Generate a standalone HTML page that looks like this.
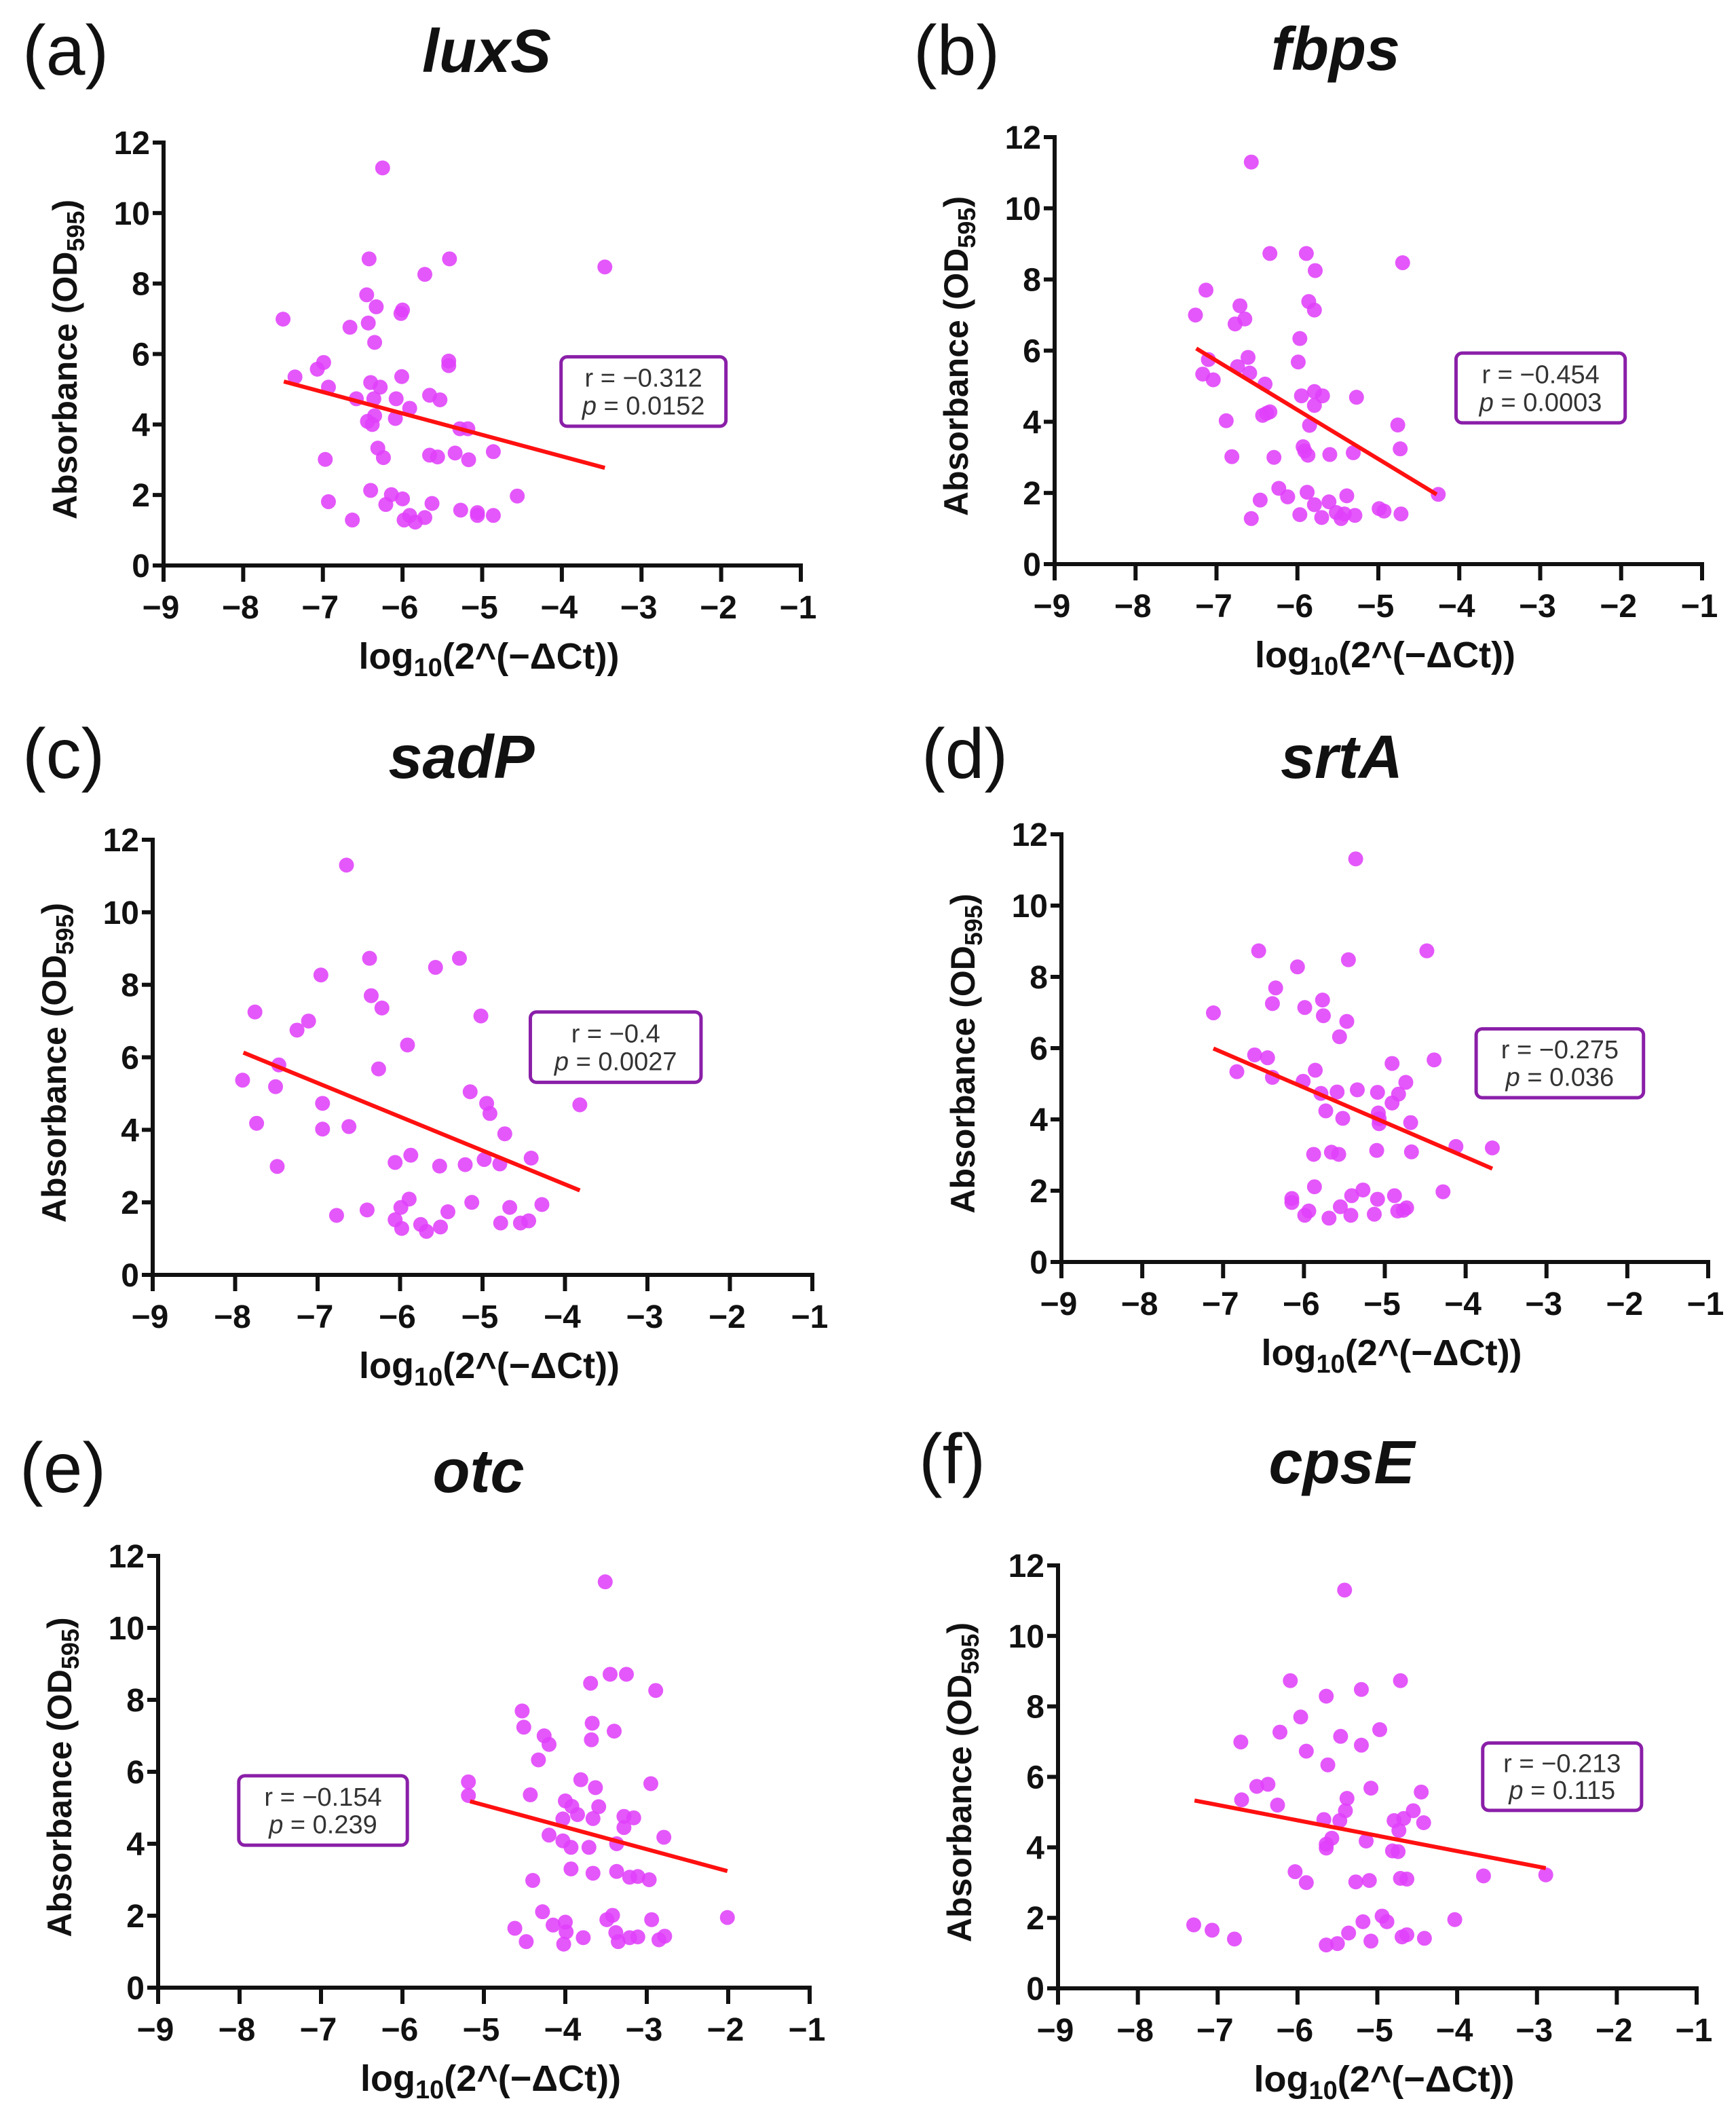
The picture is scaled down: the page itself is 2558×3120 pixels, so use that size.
<!DOCTYPE html>
<html><head><meta charset="utf-8">
<style>
html,body{margin:0;padding:0;background:#fff;}
svg{display:block;font-family:"Liberation Sans",Arial,sans-serif;}
</style></head>
<body>
<svg id="fig" xmlns="http://www.w3.org/2000/svg" width="2558" height="3120" viewBox="0 0 2558 3120"></svg>
<script>
// ---------- data ----------
const xTicks = [-9,-8,-7,-6,-5,-4,-3,-2,-1];
const yTicks = [0,2,4,6,8,10,12];
const panelLetters = ["(a)","(b)","(c)","(d)","(e)","(f)"];
const geneNames = ["luxS","fbps","sadP","srtA","otc","cpsE"];
const rValues = ["−0.312","−0.454","−0.4","−0.275","−0.154","−0.213"];
const pValues = ["0.0152","0.0003","0.0027","0.036","0.239","0.115"];

const luxsX = [-6.25,-6.42,-5.41,-3.46,-5.72,-6.45,-6.33,-6.0,-6.02,-7.5,-6.66,-6.43,-6.35,-6.99,-7.07,-5.42,-5.42,-7.35,-6.01,-6.40,-6.28,-6.93,-6.58,-6.36,-6.08,-5.66,-5.53,-5.91,-6.35,-6.44,-6.38,-6.09,-5.28,-5.18,-6.31,-6.24,-5.66,-5.56,-5.34,-5.17,-4.86,-6.97,-6.40,-6.14,-6.21,-6.0,-4.56,-6.93,-5.63,-6.63,-5.98,-5.91,-5.84,-5.72,-5.27,-5.06,-5.06,-4.86];
const luxsY = [11.28,8.7,8.7,8.47,8.26,7.68,7.34,7.25,7.15,6.99,6.76,6.88,6.33,5.76,5.57,5.8,5.67,5.35,5.36,5.19,5.06,5.06,4.73,4.73,4.73,4.83,4.70,4.46,4.25,4.09,4.0,4.17,3.88,3.88,3.33,3.06,3.13,3.08,3.19,3.0,3.23,3.01,2.13,2.01,1.73,1.89,1.97,1.81,1.76,1.29,1.29,1.42,1.23,1.36,1.57,1.5,1.42,1.42];
const fbpsX = [-6.57,-6.34,-5.89,-4.70,-5.78,-7.13,-6.71,-5.86,-5.79,-7.26,-6.65,-6.77,-5.97,-5.99,-7.10,-6.61,-6.74,-6.59,-7.17,-7.04,-6.40,-5.95,-5.79,-5.69,-5.27,-5.79,-6.43,-6.38,-6.34,-5.85,-6.88,-4.76,-5.93,-5.91,-5.87,-5.60,-5.31,-4.73,-6.81,-6.29,-6.23,-6.12,-5.88,-6.46,-5.79,-5.61,-5.39,-4.26,-6.57,-5.97,-5.70,-5.52,-5.46,-5.42,-5.29,-4.99,-4.93,-4.72];
const fbpsY = [11.3,8.73,8.73,8.47,8.25,7.70,7.26,7.38,7.14,7.0,6.89,6.75,6.34,5.68,5.75,5.81,5.55,5.37,5.34,5.18,5.06,4.73,4.85,4.73,4.69,4.46,4.18,4.24,4.28,3.9,4.03,3.91,3.3,3.18,3.06,3.08,3.13,3.24,3.02,3.0,2.13,1.89,2.02,1.80,1.67,1.75,1.92,1.96,1.28,1.39,1.31,1.45,1.28,1.41,1.37,1.56,1.49,1.41];
const sadpX = [-6.65,-6.37,-5.28,-5.57,-6.96,-6.35,-6.22,-7.76,-5.02,-7.11,-7.25,-5.91,-7.47,-6.26,-7.91,-7.51,-5.15,-4.95,-6.94,-4.91,-3.82,-7.74,-6.62,-6.94,-4.73,-5.87,-6.06,-4.41,-4.98,-4.79,-5.52,-5.21,-7.49,-5.89,-5.99,-5.13,-4.67,-4.28,-6.40,-6.77,-5.42,-6.06,-5.98,-5.75,-5.68,-5.51,-4.78,-4.54,-4.44];
const sadpY = [11.3,8.73,8.73,8.48,8.27,7.70,7.36,7.25,7.14,7.0,6.75,6.34,5.79,5.68,5.37,5.19,5.05,4.73,4.73,4.45,4.69,4.18,4.09,4.02,3.89,3.30,3.10,3.22,3.18,3.06,3.0,3.04,2.99,2.09,1.86,2.0,1.86,1.94,1.79,1.64,1.74,1.52,1.28,1.39,1.20,1.32,1.43,1.43,1.49];
const srtaX = [-5.36,-6.56,-4.48,-5.45,-6.08,-6.35,-5.77,-6.39,-5.99,-7.12,-5.76,-5.47,-5.56,-6.61,-6.45,-4.39,-4.91,-6.83,-5.86,-6.39,-6.01,-4.74,-5.79,-5.59,-5.34,-5.09,-4.83,-4.91,-5.08,-5.07,-5.07,-5.73,-5.52,-4.68,-4.12,-3.67,-5.10,-4.67,-5.88,-5.66,-5.57,-5.87,-5.27,-4.28,-6.15,-6.15,-5.41,-5.09,-4.88,-5.94,-5.99,-5.69,-5.42,-5.55,-5.13,-4.84,-4.77,-4.73];
const srtaY = [11.31,8.73,8.73,8.48,8.28,7.69,7.35,7.25,7.14,6.99,6.91,6.75,6.32,5.81,5.73,5.67,5.57,5.34,5.38,5.18,5.07,5.04,4.73,4.77,4.83,4.76,4.71,4.46,4.18,4.02,3.88,4.24,4.03,3.91,3.24,3.2,3.13,3.09,3.02,3.08,3.02,2.11,2.02,1.97,1.78,1.67,1.86,1.76,1.86,1.43,1.31,1.23,1.31,1.55,1.34,1.43,1.45,1.52];
const otcX = [-3.51,-3.45,-3.25,-3.69,-2.89,-4.53,-4.51,-3.67,-3.40,-4.26,-4.20,-3.68,-4.33,-5.19,-5.19,-3.81,-3.63,-2.95,-4.43,-4.0,-3.92,-3.59,-3.85,-4.03,-3.66,-3.28,-3.16,-3.28,-4.20,-2.79,-4.03,-3.93,-3.71,-3.37,-3.93,-3.37,-3.66,-3.21,-3.11,-2.97,-4.40,-4.28,-3.42,-3.49,-2.94,-2.01,-4.0,-4.15,-3.99,-4.62,-3.78,-4.48,-4.02,-3.38,-3.35,-3.21,-3.11,-2.85,-2.78];
const otcY = [11.28,8.71,8.71,8.46,8.26,7.69,7.24,7.35,7.13,7.0,6.76,6.89,6.33,5.72,5.34,5.78,5.56,5.67,5.36,5.19,5.04,5.03,4.81,4.69,4.70,4.76,4.72,4.45,4.24,4.18,4.08,3.90,3.90,4.0,3.30,3.23,3.18,3.07,3.09,3.0,2.98,2.11,2.01,1.89,1.89,1.95,1.82,1.74,1.55,1.65,1.39,1.28,1.21,1.53,1.28,1.39,1.41,1.33,1.43];
const cpseX = [-5.41,-6.09,-4.71,-5.20,-5.64,-5.96,-6.22,-4.97,-5.46,-6.71,-5.20,-5.89,-5.62,-6.51,-6.37,-5.08,-4.45,-5.38,-6.70,-6.25,-5.40,-4.55,-5.67,-5.47,-4.67,-4.79,-4.42,-4.73,-5.57,-5.14,-5.64,-5.64,-4.81,-4.74,-6.03,-5.89,-5.27,-5.10,-4.71,-4.63,-3.67,-2.89,-7.30,-7.07,-6.79,-4.94,-4.88,-5.18,-4.03,-5.36,-5.64,-5.50,-5.08,-4.69,-4.63,-4.41];
const cpseY = [11.30,8.73,8.73,8.48,8.29,7.70,7.27,7.34,7.15,6.99,6.90,6.73,6.34,5.73,5.79,5.68,5.57,5.39,5.35,5.20,5.04,5.04,4.79,4.76,4.82,4.76,4.70,4.48,4.26,4.18,4.09,3.98,3.90,3.88,3.31,3.0,3.02,3.06,3.12,3.10,3.19,3.22,1.80,1.65,1.40,2.05,1.89,1.89,1.95,1.57,1.23,1.27,1.34,1.46,1.52,1.42];

// regression fit endpoints [x1,y1,x2,y2] per panel
const fitLuxs = [-7.49,5.22,-3.46,2.77];
const fitFbps = [-7.25,6.06,-4.28,1.96];
const fitSadp = [-7.90,6.13,-3.82,2.33];
const fitSrta = [-7.12,5.99,-3.67,2.62];
const fitOtc  = [-5.17,5.18,-2.01,3.24];
const fitCpse = [-7.29,5.33,-2.89,3.41];

// ---------- layout ----------
const panels = [
 {xs:luxsX, ys:luxsY, fit:fitLuxs, x0:241, x1:1180, y0:833, y12:210, box:[-4.01,5.92,-1.94,3.95], lab:[33,110], title:[717,106]},
 {xs:fbpsX, ys:fbpsY, fit:fitFbps, x0:1554, x1:2508, y0:831, y12:202, box:[-4.04,5.93,-1.95,3.97], lab:[1346,110], title:[1968,103]},
 {xs:sadpX, ys:sadpY, fit:fitSadp, x0:225, x1:1197, y0:1878, y12:1237, box:[-4.42,7.25,-2.35,5.31], lab:[33,1146], title:[680,1146]},
 {xs:srtaX, ys:srtaY, fit:fitSrta, x0:1564, x1:2517, y0:1859, y12:1229, box:[-3.87,6.54,-1.80,4.61], lab:[1358,1146], title:[1977,1146]},
 {xs:otcX, ys:otcY, fit:fitOtc, x0:233, x1:1193, y0:2928, y12:2292, box:[-8.01,5.89,-5.94,3.96], lab:[29,2198], title:[705,2198]},
 {xs:cpseX, ys:cpseY, fit:fitCpse, x0:1559, x1:2500, y0:2929, y12:2306, box:[-3.68,6.96,-1.69,5.05], lab:[1354,2185], title:[1977,2185]}
];

const NS = "http://www.w3.org/2000/svg";
const svg = document.getElementById("fig");
function mk(tag, attrs, parent){
  const e = document.createElementNS(NS, tag);
  for (const k in attrs) e.setAttribute(k, attrs[k]);
  (parent||svg).appendChild(e);
  return e;
}

panels.forEach((P, i) => {
  const sx = v => P.x0 + (v + 9) * (P.x1 - P.x0) / 8;
  const sy = v => P.y0 - v * (P.y0 - P.y12) / 12;
  const g = mk("g", {});
  
  

  const pl = mk("text", {x:P.lab[0], y:P.lab[1], "font-size":104, fill:"#111"}, g);
  pl.textContent = panelLetters[i];
  
  

  const tt = mk("text", {x:P.title[0], y:P.title[1], "font-size":90, "font-weight":"bold", "font-style":"italic", "text-anchor":"middle", fill:"#111"}, g);
  tt.textContent = geneNames[i];
  
  

  const ya = mk("line", {x1:P.x0, y1:P.y12-3, x2:P.x0, y2:P.y0+3, stroke:"#111", "stroke-width":6}, g);
  
  
  const xa = mk("line", {x1:P.x0-3, y1:P.y0, x2:P.x1+3, y2:P.y0, stroke:"#111", "stroke-width":6}, g);
  
  

  xTicks.forEach(t => {
    const x = sx(t);
    const tk = mk("line", {x1:x, y1:P.y0, x2:x, y2:P.y0+24, stroke:"#111", "stroke-width":6}, g);
    
    
    const tl = mk("text", {x:x-4, y:P.y0+78, "font-size":48, "font-weight":"bold", "text-anchor":"middle", fill:"#111"}, g);
    tl.textContent = "−" + Math.abs(t);
    
    
  });
  yTicks.forEach(t => {
    const y = sy(t);
    const tk = mk("line", {x1:P.x0-16, y1:y, x2:P.x0, y2:y, stroke:"#111", "stroke-width":6}, g);
    
    
    const tl = mk("text", {x:P.x0-20, y:y+17, "font-size":48, "font-weight":"bold", "text-anchor":"end", fill:"#111"}, g);
    tl.textContent = String(t);
    
    
  });

  const cy = (P.y0 + P.y12) / 2 + 8;
  const cx = P.x0 - 128;
  const yt = mk("text", {x:cx, y:cy, "font-size":50, "font-weight":"bold", "text-anchor":"middle", fill:"#111", transform:`rotate(-90 ${cx} ${cy})`}, g);
  yt.innerHTML = 'Absorbance (OD<tspan font-size="36" dy="11">595</tspan><tspan dy="-11">)</tspan>';
  
  
  const xt = mk("text", {x:(P.x0+P.x1)/2+10, y:P.y0+152, "font-size":54, "font-weight":"bold", "text-anchor":"middle", fill:"#111"}, g);
  xt.innerHTML = 'log<tspan font-size="38" dy="11">10</tspan><tspan dy="-11">(2^(−ΔCt))</tspan>';
  
  

  P.xs.forEach((xv, k) => {
    const c = mk("circle", {cx:sx(xv), cy:sy(P.ys[k]), r:11, fill:"#e040fb", "fill-opacity":0.88}, g);
    
    
  });

  const f = P.fit;
  const rl = mk("line", {x1:sx(f[0]), y1:sy(f[1]), x2:sx(f[2]), y2:sy(f[3]), stroke:"#ff1010", "stroke-width":6}, g);
  
  

  const b = P.box;
  const bx = sx(b[0]), by = sy(b[1]), bw = sx(b[2]) - bx, bh = sy(b[3]) - by;
  const rect = mk("rect", {x:bx, y:by, width:bw, height:bh, rx:9, fill:"#fff", stroke:"#8a1fa8", "stroke-width":5}, g);
  
  
  const t1 = mk("text", {x:bx+bw/2, y:by+bh*0.43, "font-size":38, "text-anchor":"middle", fill:"#333"}, g);
  t1.textContent = "r = " + rValues[i];
  
  
  const t2 = mk("text", {x:bx+bw/2, y:by+bh*0.83, "font-size":38, "text-anchor":"middle", fill:"#333"}, g);
  t2.innerHTML = '<tspan font-style="italic">p</tspan> = ' + pValues[i];
  
  
});
</script>
</body></html>
